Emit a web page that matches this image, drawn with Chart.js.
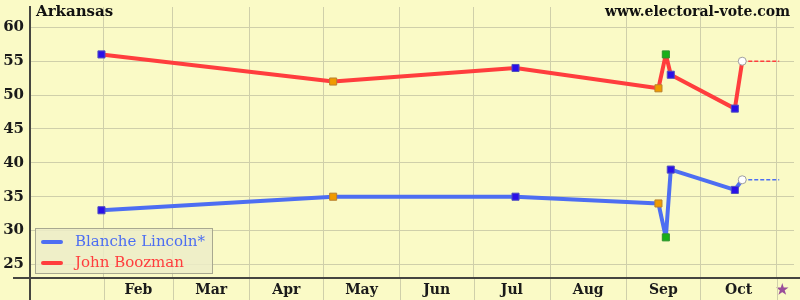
<!DOCTYPE html>
<html><head><meta charset="utf-8">
<script src="https://cdn.jsdelivr.net/npm/chart.js@4/dist/chart.umd.min.js"></script>
<style>html,body{margin:0;padding:0;background:#FAFAC6;}#wrap{width:800px;height:300px;position:relative;}</style>
</head><body><div id="wrap"><canvas id="c"></canvas></div>
<script>
const stateName = 'Arkansas';
const siteName = 'www.electoral-vote.com';
const seriesNames = ['Blanche Lincoln*', 'John Boozman'];
const pollDates = ['2010-01-31','2010-05-05','2010-07-18','2010-09-14','2010-09-17','2010-09-19','2010-10-15','2010-10-18'];
const lincoln = [33, 35, 35, 34, 29, 39, 36, 37.5];
const boozman = [56, 52, 54, 51, 56, 53, 48, 55];
const pollKinds = ['blue','orange','blue','orange','green','blue','blue','open'];
const electionDate = '2010-11-02';
const monthLabels = ['Feb','Mar','Apr','May','Jun','Jul','Aug','Sep','Oct'];
const monthStartDates = ['2010-02-01','2010-03-01','2010-04-01','2010-05-01','2010-06-01','2010-07-01','2010-08-01','2010-09-01','2010-10-01','2010-11-01'];
const yTicks = [25, 30, 35, 40, 45, 50, 55, 60];

const DAY0 = Date.UTC(2010, 0, 1);
function dayNum(s) { const p = s.split('-').map(Number); return (Date.UTC(p[0], p[1]-1, p[2]) - DAY0) / 86400000; }

const BLUE = '#4D6EF2', RED = '#FF3D3D';
const kindFill = {blue:'#2A10E8', orange:'#F09A00', green:'#18B018', open:'#FFFFFF'};
const kindBorder = {blue:'#5050C0', orange:'#B88030', green:'#309030', open:'#A0A0A0'};

const monthStartDays = monthStartDates.map(dayNum);
const monthMidDays = monthLabels.map((m, i) => (monthStartDays[i] + monthStartDays[i+1]) / 2);
const electionDay = dayNum(electionDate);

function pts(vals) { return pollDates.map((d, i) => ({x: dayNum(d), y: vals[i]})); }
function tail(vals) { const n = vals.length - 1; return [{x: dayNum(pollDates[n]), y: vals[n]}, {x: electionDay, y: vals[n]}]; }

const pointStyles = pollKinds.map(k => k === 'open' ? 'circle' : 'rect');
const pointRadii = pollKinds.map(k => k === 'open' ? 4 : 5);
const pointFills = pollKinds.map(k => kindFill[k]);
const pointBorders = pollKinds.map(k => kindBorder[k]);

const xTickList = [];
monthStartDays.forEach(v => xTickList.push({value: v, kind: 'grid'}));
monthMidDays.forEach((v, i) => xTickList.push({value: v, kind: 'label', label: monthLabels[i]}));
xTickList.push({value: electionDay + 1.5, kind: 'star', label: '\u2605'});
xTickList.sort((a, b) => a.value - b.value);

const GRID = '#CFCFAA';
const AXIS = '#454540';

const deco = {
  id: 'deco',
  beforeDraw(chart) {
    const ctx = chart.ctx;
    ctx.save();
    ctx.fillStyle = '#FAFAC6';
    ctx.fillRect(0, 0, chart.width, chart.height);
    ctx.restore();
  },
  afterDatasetsDraw(chart) {
    const ctx = chart.ctx, a = chart.chartArea, xs = chart.scales.x;
    ctx.save();
    ctx.strokeStyle = GRID; ctx.lineWidth = 1;
    monthStartDays.forEach(v => {
      const px = Math.round(xs.getPixelForValue(v)) + 0.5;
      ctx.beginPath(); ctx.moveTo(px, a.bottom); ctx.lineTo(px, chart.height); ctx.stroke();
    });
    ctx.strokeStyle = AXIS; ctx.lineWidth = 2;
    ctx.beginPath(); ctx.moveTo(13, a.bottom); ctx.lineTo(chart.width, a.bottom); ctx.stroke();
    ctx.beginPath(); ctx.moveTo(a.left, a.top - 1); ctx.lineTo(a.left, chart.height); ctx.stroke();
    ctx.fillStyle = '#111';
    ctx.font = 'bold 15px "DejaVu Serif"';
    ctx.textBaseline = 'middle';
    ctx.textAlign = 'left';
    ctx.fillText(stateName, a.left + 6, 12);
    ctx.font = 'bold 14px "DejaVu Serif"';
    ctx.textAlign = 'right';
    ctx.fillText(siteName, 790, 12);
    const lx = 35, ly = 228, lw = 177, lh = 45;
    ctx.fillStyle = 'rgba(236,236,200,0.85)';
    ctx.fillRect(lx, ly, lw, lh);
    ctx.strokeStyle = '#A8A890'; ctx.lineWidth = 1;
    ctx.strokeRect(lx + 0.5, ly + 0.5, lw, lh);
    const cols = [BLUE, RED];
    ctx.font = '15px "DejaVu Serif"';
    ctx.textAlign = 'left';
    [242, 263].forEach((yy, i) => {
      ctx.strokeStyle = cols[i]; ctx.lineWidth = 4; ctx.lineCap = 'round';
      ctx.beginPath(); ctx.moveTo(43, yy); ctx.lineTo(61, yy); ctx.stroke();
      ctx.fillStyle = cols[i];
      ctx.fillText(seriesNames[i], 75, yy);
    });
    ctx.restore();
  }
};

const lineCommon = {borderWidth: 4, tension: 0, borderJoinStyle: 'bevel',
  pointStyle: pointStyles, pointRadius: pointRadii, pointBackgroundColor: pointFills, pointBorderColor: pointBorders, pointBorderWidth: 1, order: 1};

new Chart(document.getElementById('c'), {
  type: 'line',
  data: {
    datasets: [
      Object.assign({label: seriesNames[0], data: pts(lincoln), borderColor: BLUE}, lineCommon),
      Object.assign({label: seriesNames[1], data: pts(boozman), borderColor: RED}, lineCommon),
      {label: 'tailL', data: tail(lincoln), borderColor: BLUE, borderWidth: 1.5, borderDash: [4, 2], pointRadius: 0, order: 2},
      {label: 'tailB', data: tail(boozman), borderColor: RED, borderWidth: 1.5, borderDash: [4, 2], pointRadius: 0, order: 2}
    ]
  },
  options: {
    responsive: true, maintainAspectRatio: false, animation: false,
    layout: {padding: {top: 7, right: 4, left: 0, bottom: 0}},
    plugins: {legend: {display: false}, tooltip: {enabled: false}},
    scales: {
      x: {
        type: 'linear', min: 1, max: 311,
        afterBuildTicks: s => { s.ticks = xTickList.map(t => ({value: t.value})); },
        afterFit: s => { s.height = 22; s.paddingLeft = 0; s.paddingRight = 0; },
        grid: {color: ctx => (ctx.tick && monthStartDays.includes(ctx.tick.value)) ? GRID : 'rgba(0,0,0,0)', drawTicks: false, lineWidth: 1},
        border: {display: false},
        ticks: {
          autoSkip: false, maxRotation: 0, padding: 4,
          font: {family: '"DejaVu Serif"', size: 14, weight: 'bold'},
          color: ctx => { const t = xTickList[ctx.index]; return t && t.kind === 'star' ? '#9A4E9A' : '#1A1A1A'; },
          callback: (v, i) => { const t = xTickList[i]; return t && t.kind !== 'grid' ? t.label : ''; }
        }
      },
      y: {
        type: 'linear', min: 23, max: 63,
        afterBuildTicks: s => { s.ticks = yTicks.map(v => ({value: v})); },
        afterFit: s => { s.width = 30; s.paddingTop = 0; s.paddingBottom = 0; },
        grid: {color: GRID, drawTicks: false, lineWidth: 1},
        border: {display: false},
        ticks: {padding: 6, font: {family: '"DejaVu Serif"', size: 15, weight: 'bold'}, color: '#1A1A1A'}
      }
    }
  },
  plugins: [deco]
});
</script></body></html>
